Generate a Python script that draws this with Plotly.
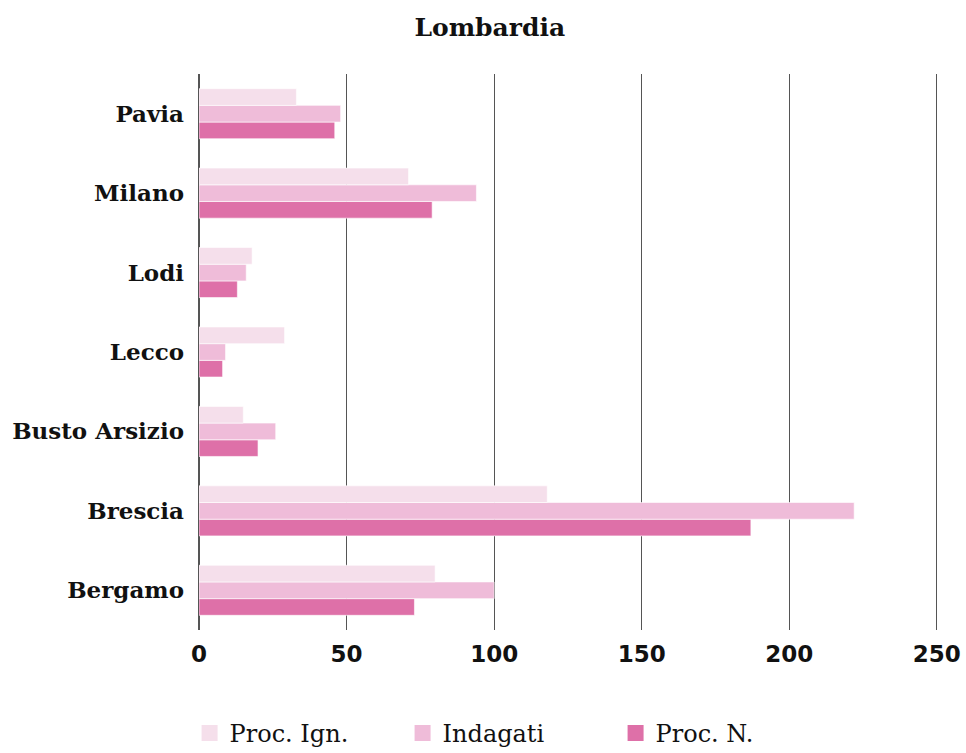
import plotly.graph_objects as go

categories = ["Bergamo", "Brescia", "Busto Arsizio", "Lecco", "Lodi", "Milano", "Pavia"]
proc_ign = [80, 118, 15, 29, 18, 71, 33]
indagati = [100, 222, 26, 9, 16, 94, 48]
proc_n = [73, 187, 20, 8, 13, 79, 46]

tick_vals = [0, 50, 100, 150, 200, 250]

series = [
    ("Proc. N.", proc_n, "#de70a8"),
    ("Indagati", indagati, "#efbcd9"),
    ("Proc. Ign.", proc_ign, "#f5dfeb"),
]

fig = go.Figure()
for name, vals, color in series:
    fig.add_trace(go.Bar(
        y=categories, x=vals, name=name, orientation="h",
        marker=dict(color=color, line=dict(color="rgba(255,255,255,0.6)", width=1)),
        showlegend=False,
    ))
for name, vals, color in series:
    fig.add_trace(go.Scatter(
        x=[None], y=[None], mode="markers", name=name,
        marker=dict(symbol="square", size=20, color=color),
    ))

serif = "DejaVu Serif"
W, H = 966, 753
fig.update_layout(
    width=W, height=H,
    paper_bgcolor="white", plot_bgcolor="white",
    barmode="group", bargap=0.37, bargroupgap=0,
    margin=dict(l=199, r=28, t=74, b=123, autoexpand=False),
    title=dict(text="<b>Lombardia</b>", x=0.507, xanchor="center", xref="container",
               y=0.964, yref="container", yanchor="middle",
               font=dict(family=serif, size=25, color="#111")),
    xaxis=dict(range=[0, 250.4], tickvals=tick_vals, showgrid=True, gridcolor="#555", gridwidth=1,
               zeroline=True, zerolinecolor="#555", zerolinewidth=1.5, showline=False,
               tickfont=dict(family="DejaVu Sans", size=23, color="#111", weight="bold"),
               ticks="", ticklabelstandoff=8, automargin=False),
    yaxis=dict(categoryorder="array", categoryarray=categories, showgrid=False, zeroline=False,
               tickfont=dict(family=serif, size=23, color="#111", weight="bold"),
               ticks="", ticklabelstandoff=14, automargin=False),
    legend=dict(orientation="h", x=0.527, xanchor="center", xref="container",
                y=0.026, yref="container", yanchor="middle",
                traceorder="reversed", entrywidth=168, entrywidthmode="pixels",
                font=dict(family=serif, size=24, color="#111"), itemsizing="trace"),
)

fig.write_html(
    "out.html",
    config={"displayModeBar": False},
    post_script="document.body.style.margin='0';document.body.style.overflow='hidden';",
)
